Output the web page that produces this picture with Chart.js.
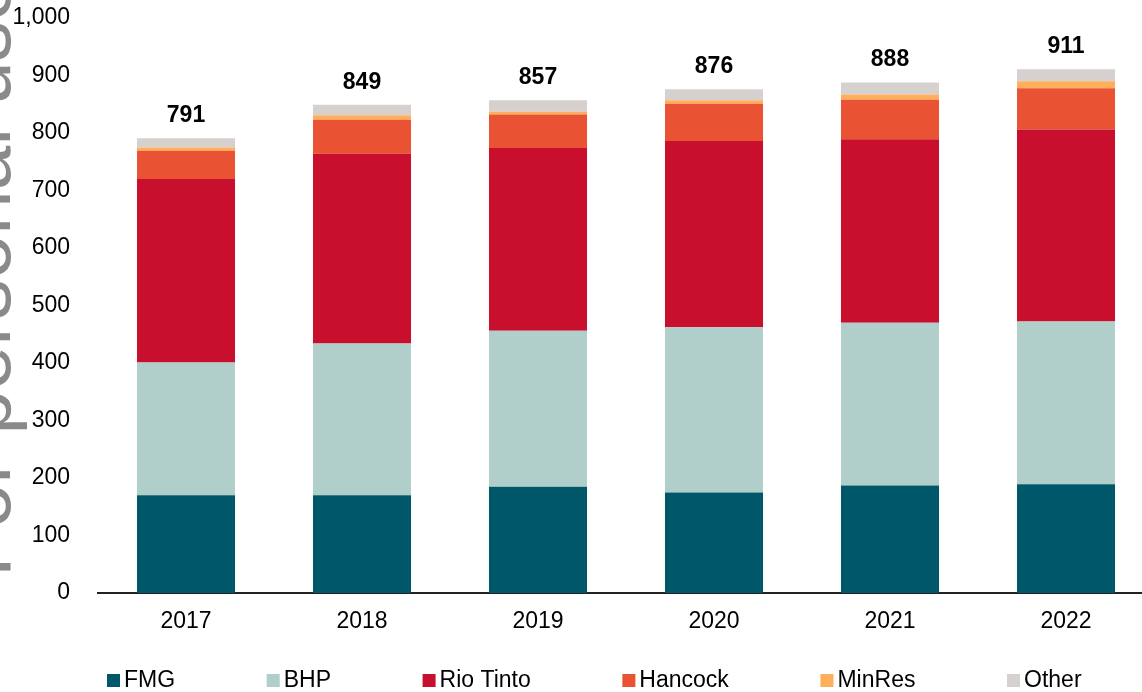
<!DOCTYPE html>
<html>
<head>
<meta charset="utf-8">
<script src="https://cdn.jsdelivr.net/npm/chart.js@4.4.1/dist/chart.umd.min.js"></script>
<style>
  html, body { margin: 0; padding: 0; overflow: hidden; background: #fff; }
  #wrap { width: 1154px; height: 692px; position: relative; }
</style>
</head>
<body>
<div id="wrap"><canvas id="c" width="1154" height="692"></canvas></div>
<script>
// ---- data ----
const categories = ['2017', '2018', '2019', '2020', '2021', '2022'];
const fmg      = [170, 170, 185, 175, 187, 189];
const bhp      = [231, 264, 271, 287, 283, 283];
const rioTinto = [319, 330, 318, 324, 319, 334];
const hancock  = [49, 59, 58, 65, 69, 72];
const minRes   = [6, 8, 5, 6, 9, 12];
const other    = [16, 18, 20, 19, 21, 21];
const seriesNames = ['FMG', 'BHP', 'Rio Tinto', 'Hancock', 'MinRes', 'Other'];
const seriesColors = ['#00576A', '#B0CECA', '#C8102E', '#EA5234', '#FFAE5C', '#D6D1CE'];
const yMin = 0, yMax = 1000, yStep = 100;
const watermarkText = 'For personal use';

const seriesValues = [fmg, bhp, rioTinto, hancock, minRes, other];
const totals = categories.map((_, i) => seriesValues.reduce((s, arr) => s + arr[i], 0));

const FONT = '"Liberation Sans", Arial, sans-serif';

const watermarkPlugin = {
  id: 'watermark',
  beforeDraw(chart) {
    const ctx = chart.ctx;
    ctx.save();
    ctx.translate(10, 577);
    ctx.rotate(-Math.PI / 2);
    ctx.font = '80px ' + FONT;
    ctx.fillStyle = '#8a8a8a';
    ctx.textBaseline = 'alphabetic';
    ctx.textAlign = 'left';
    ctx.fillText(watermarkText, 0, 0);
    ctx.restore();
  }
};

const totalsPlugin = {
  id: 'totals',
  afterDatasetsDraw(chart) {
    const ctx = chart.ctx;
    const yScale = chart.scales.y;
    const meta = chart.getDatasetMeta(chart.data.datasets.length - 1);
    ctx.save();
    ctx.font = 'bold 23px ' + FONT;
    ctx.fillStyle = '#000';
    ctx.textAlign = 'center';
    ctx.textBaseline = 'alphabetic';
    meta.data.forEach((bar, i) => {
      const y = yScale.getPixelForValue(totals[i]);
      ctx.fillText(totals[i].toLocaleString('en-US'), bar.x, y - 16);
    });
    ctx.restore();
  }
};

const legendPlugin = {
  id: 'customLegend',
  afterDraw(chart) {
    const ctx = chart.ctx;
    ctx.save();
    ctx.font = '23px ' + FONT;
    ctx.textBaseline = 'alphabetic';
    ctx.textAlign = 'left';
    let x = 107;
    const boxTop = 674, box = 13, baseline = 687;
    chart.data.datasets.forEach(ds => {
      ctx.fillStyle = ds.backgroundColor;
      ctx.fillRect(x, boxTop, box, box);
      ctx.fillStyle = '#000';
      ctx.fillText(ds.label, x + box + 4, baseline);
      x += box + 4 + ctx.measureText(ds.label).width + 91.6;
    });
    ctx.restore();
  }
};

new Chart(document.getElementById('c'), {
  type: 'bar',
  data: {
    labels: categories,
    datasets: seriesValues.map((vals, k) => ({
      label: seriesNames[k],
      data: vals,
      backgroundColor: seriesColors[k],
      borderWidth: 0,
      categoryPercentage: 0.557,
      barPercentage: 1.0
    }))
  },
  options: {
    responsive: false,
    animation: false,
    devicePixelRatio: 1,
    layout: { padding: { top: 0, right: 0, bottom: 0, left: 0 } },
    plugins: {
      legend: { display: false },
      tooltip: { enabled: false },
      title: { display: false }
    },
    scales: {
      x: {
        stacked: true,
        grid: { display: false, drawTicks: false },
        border: { display: true, color: '#222', width: 2 },
        ticks: { color: '#000', font: { family: FONT, size: 23 }, padding: 15, maxRotation: 0 },
        afterFit(scale) { scale.height = 99; }
      },
      y: {
        stacked: true,
        min: yMin,
        max: yMax,
        grid: { display: false, drawTicks: false },
        border: { display: false },
        ticks: {
          stepSize: yStep,
          color: '#000',
          font: { family: FONT, size: 23 },
          padding: 28,
          callback: v => v.toLocaleString('en-US')
        },
        afterFit(scale) { scale.width = 98; scale.paddingTop = 18; scale.paddingBottom = 0; }
      }
    }
  },
  plugins: [watermarkPlugin, totalsPlugin, legendPlugin]
});
</script>
</body>
</html>
